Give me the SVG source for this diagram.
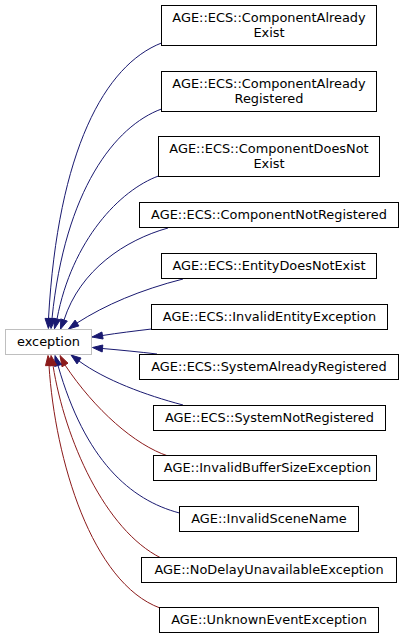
<svg xmlns="http://www.w3.org/2000/svg" width="404" height="639" viewBox="0 0 404 639">
<style>
.n rect{fill:#fff;stroke:#000;stroke-width:1}
.ext rect{fill:#fff;stroke:#bfbfbf;stroke-width:1}
text{font-family:"DejaVu Sans",sans-serif;font-size:12.9px;text-anchor:middle;fill:#000}
.b{fill:none;stroke:#191970;stroke-width:1}
.r{fill:none;stroke:#8b1a1a;stroke-width:1}
.bh{fill:#191970;stroke:#191970}
.rh{fill:#8b1a1a;stroke:#8b1a1a}
</style>
<rect width="404" height="639" fill="#fff"/>
<g id="connectors">
<path class="b" d="M161.5,43 C105,65 58,150 48.5,318.5"/>
<polygon class="bh" points="45,318.4 48.4,328.5 52,318.6"/>
<path class="b" d="M161.5,109 C115,126 65,190 52,318.5"/>
<polygon class="bh" points="48.5,318.2 51,328.5 55.5,318.8"/>
<path class="b" d="M158.5,176 C120,190 72,240 57,319"/>
<polygon class="bh" points="53.6,318.2 54.5,328.8 60.4,319.8"/>
<path class="b" d="M168,228 C125,240 80,270 64,320"/>
<polygon class="bh" points="60.7,318.9 60.5,329.2 67.3,321.1"/>
<path class="b" d="M183,279 C140,290 105,305 77,323"/>
<polygon class="bh" points="75.1,320.1 68.5,329 78.9,325.9"/>
<path class="b" d="M151.5,329 C135,331 118,333 102.5,335.5"/>
<polygon class="bh" points="101.9,332 92,337 103.1,339"/>
<path class="b" d="M157,354 C140,352 120,350 102.5,348.5"/>
<polygon class="bh" points="102.8,345 92.5,347.5 102.2,352"/>
<path class="b" d="M183,405 C145,395 105,380 79,361"/>
<polygon class="bh" points="81,358.1 71,355 77,363.9"/>
<path class="r" d="M168,456 C135,445 95,410 65,365"/>
<polygon class="rh" points="68,363.2 60,355.5 62,366.8"/>
<path class="b" d="M179.5,513 C130,500 85,460 58,365.5"/>
<polygon class="bh" points="61.4,364.5 55,355.5 54.6,366.5"/>
<path class="r" d="M161,558 C105,530 65,440 53,365.5"/>
<polygon class="rh" points="56.5,365 51,355.5 49.5,366"/>
<path class="r" d="M160,608 C92,583 55,460 49,365.5"/>
<polygon class="rh" points="52.5,365.3 48,355.5 45.5,365.7"/>
</g>
<g id="exception" class="ext"><rect x="5.5" y="329.5" width="86" height="25"/><text x="48.5" y="346">exception</text></g>
<g id="n1" class="n"><rect x="161.5" y="5.5" width="215" height="40"/><text x="269" y="21.5">AGE::ECS::ComponentAlready</text><text x="269" y="36.5">Exist</text></g>
<g id="n2" class="n"><rect x="161.5" y="71.5" width="215" height="40"/><text x="269" y="87.5">AGE::ECS::ComponentAlready</text><text x="269" y="102.5">Registered</text></g>
<g id="n3" class="n"><rect x="158.5" y="136.5" width="221" height="40"/><text x="269" y="152.5">AGE::ECS::ComponentDoesNot</text><text x="269" y="167.5">Exist</text></g>
<g id="n4" class="n"><rect x="139.5" y="202.5" width="259" height="25"/><text x="269" y="219">AGE::ECS::ComponentNotRegistered</text></g>
<g id="n5" class="n"><rect x="161.5" y="253.5" width="215" height="25"/><text x="269" y="270">AGE::ECS::EntityDoesNotExist</text></g>
<g id="n6" class="n"><rect x="151.5" y="304.5" width="236" height="25"/><text x="269.5" y="321">AGE::ECS::InvalidEntityException</text></g>
<g id="n7" class="n"><rect x="139.5" y="354.5" width="259" height="25"/><text x="269" y="371">AGE::ECS::SystemAlreadyRegistered</text></g>
<g id="n8" class="n"><rect x="153.5" y="405.5" width="232" height="25"/><text x="269.5" y="422">AGE::ECS::SystemNotRegistered</text></g>
<g id="n9" class="n"><rect x="153.5" y="455.5" width="223" height="25"/><text x="267.5" y="472">AGE::InvalidBufferSizeException</text></g>
<g id="n10" class="n"><rect x="179.5" y="506.5" width="179" height="25"/><text x="269" y="523">AGE::InvalidSceneName</text></g>
<g id="n11" class="n"><rect x="141.5" y="557.5" width="255" height="25"/><text x="269" y="574">AGE::NoDelayUnavailableException</text></g>
<g id="n12" class="n"><rect x="159.5" y="607.5" width="219" height="25"/><text x="269" y="624">AGE::UnknownEventException</text></g>
</svg>
